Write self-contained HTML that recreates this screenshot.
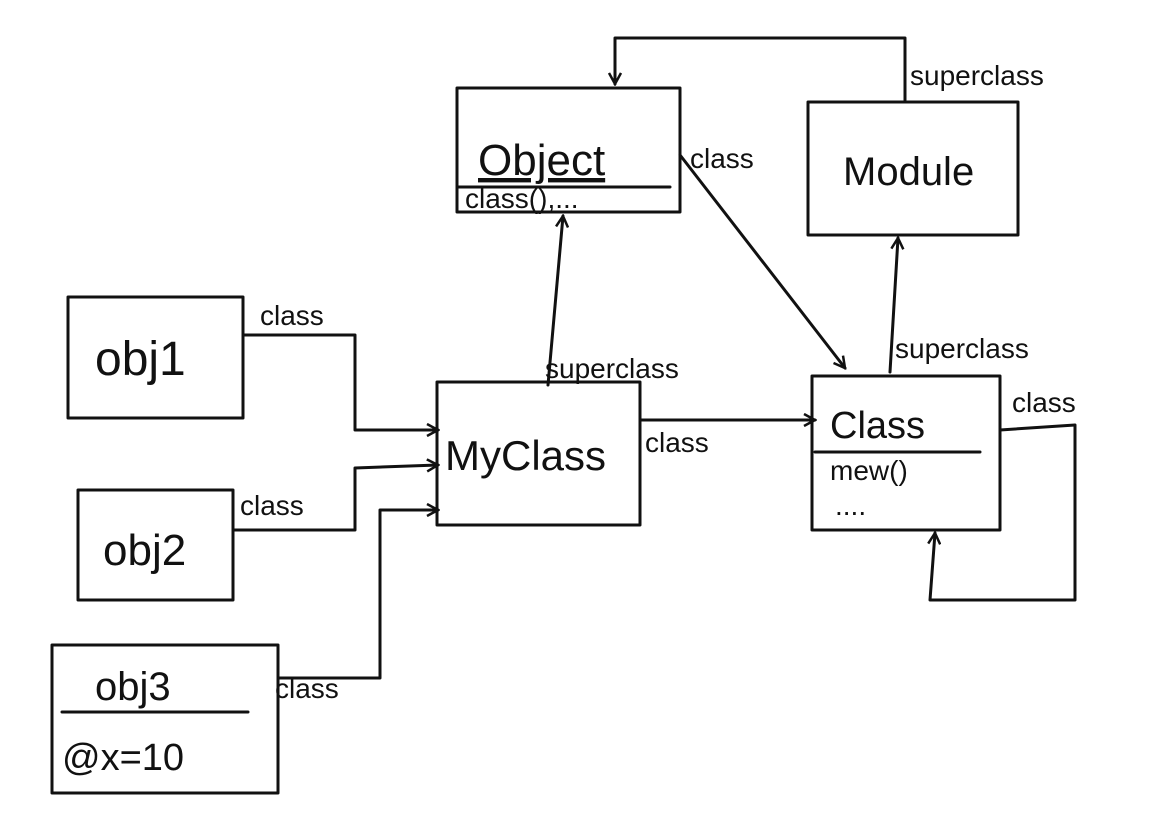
<!DOCTYPE html>
<html><head><meta charset="utf-8"><style>
html,body{margin:0;padding:0;background:#fff;}
svg{display:block;}
text{font-family:"Liberation Sans",sans-serif;fill:#111;}
</style></head><body>
<svg width="1152" height="827" viewBox="0 0 1152 827" xmlns="http://www.w3.org/2000/svg">
<defs>
<marker id="a" markerWidth="14" markerHeight="14" refX="12" refY="7" orient="auto" markerUnits="userSpaceOnUse">
<path d="M1,1 L12,7 L1,13" fill="none" stroke="#111" stroke-width="2.5"/>
</marker>
</defs>
<g fill="none" stroke="#111" stroke-width="3" stroke-linecap="round" stroke-linejoin="round">
<!-- boxes -->
<rect x="457" y="88" width="223" height="124"/>
<line x1="457" y1="187" x2="670" y2="187"/>
<rect x="808" y="102" width="210" height="133"/>
<rect x="68" y="297" width="175" height="121"/>
<rect x="437" y="382" width="203" height="143"/>
<rect x="812" y="376" width="188" height="154"/>
<line x1="815" y1="452" x2="980" y2="452"/>
<rect x="78" y="490" width="155" height="110"/>
<rect x="52" y="645" width="226" height="148"/>
<line x1="62" y1="712" x2="248" y2="712"/>
<!-- connectors -->
<polyline points="905,100 905,38 615,38 615,84" marker-end="url(#a)"/>
<polyline points="680,155 845,368" marker-end="url(#a)"/>
<polyline points="548,385 563,216" marker-end="url(#a)"/>
<polyline points="890,372 898,238" marker-end="url(#a)"/>
<polyline points="640,420 815,420" marker-end="url(#a)"/>
<polyline points="1000,430 1075,425 1075,600 930,600 935,533" marker-end="url(#a)"/>
<polyline points="243,335 355,335 355,430 438,430" marker-end="url(#a)"/>
<polyline points="233,530 355,530 355,468 438,465" marker-end="url(#a)"/>
<polyline points="278,678 380,678 380,510 438,510" marker-end="url(#a)"/>
</g>
<g font-size="34">
<text x="478" y="175" font-size="44" text-decoration="underline">Object</text>
<text x="465" y="208" font-size="28">class(),...</text>
<text x="843" y="185" font-size="40">Module</text>
<text x="95" y="375" font-size="48">obj1</text>
<text x="445" y="470" font-size="42">MyClass</text>
<text x="830" y="438" font-size="38">Class</text>
<text x="830" y="480" font-size="28">mew()</text>
<text x="835" y="515" font-size="28">....</text>
<text x="103" y="565" font-size="44">obj2</text>
<text x="95" y="700" font-size="40">obj3</text>
<text x="62" y="770" font-size="38">@x=10</text>
</g>
<g font-size="28">
<text x="260" y="325">class</text>
<text x="910" y="85">superclass</text>
<text x="690" y="168">class</text>
<text x="545" y="378">superclass</text>
<text x="895" y="358">superclass</text>
<text x="645" y="452">class</text>
<text x="1012" y="412">class</text>
<text x="240" y="515">class</text>
<text x="275" y="698">class</text>
</g>
</svg>
</body></html>
